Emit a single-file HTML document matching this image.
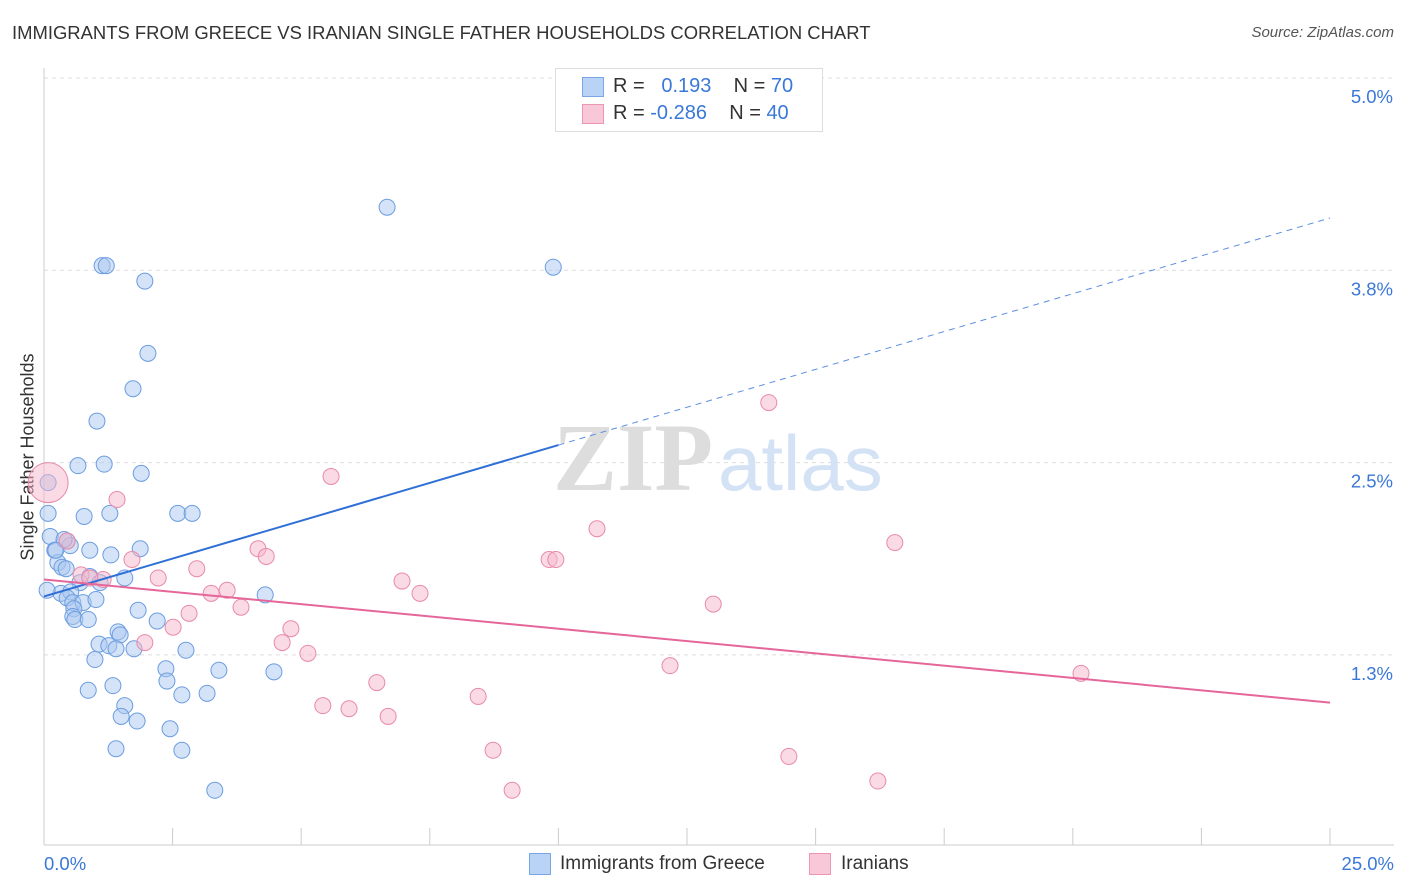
<!DOCTYPE html>
<html><head><meta charset="utf-8"><style>
body{margin:0;background:#fff;font-family:"Liberation Sans",sans-serif;}
#wrap{position:relative;width:1406px;height:892px;overflow:hidden;}
.t{position:absolute;white-space:nowrap;}
</style></head><body>
<div id="wrap">
<div class="t" style="left:12px;top:22px;font-size:18.45px;color:#333;">IMMIGRANTS FROM GREECE VS IRANIAN SINGLE FATHER HOUSEHOLDS CORRELATION CHART</div>
<div class="t" style="right:12px;top:24px;font-size:15px;color:#555;font-style:italic;">Source: ZipAtlas.com</div>
<div class="t" style="left:28px;top:457px;font-size:18px;color:#333;transform:translate(-50%,-50%) rotate(-90deg);">Single Father Households</div>
<svg id="svg" width="1406" height="892" style="position:absolute;left:0;top:0"></svg>
<div style="position:absolute;left:555px;top:68px;width:266px;height:62px;border:1px solid #ddd;background:#fff;">
<div style="position:absolute;left:26px;top:8px;width:20px;height:18px;background:#b8d3f5;border:1px solid #7aa7e3;"></div>
<div class="t" style="left:57px;top:6px;font-size:20px;color:#333;">R = &nbsp;<span style="color:#3a78d8">&nbsp;0.193</span>&nbsp;&nbsp;&nbsp; N = <span style="color:#3a78d8">70</span></div>
<div style="position:absolute;left:26px;top:35px;width:20px;height:18px;background:#f8c8d8;border:1px solid #eb97b3;"></div>
<div class="t" style="left:57px;top:33px;font-size:20px;color:#333;">R = <span style="color:#3a78d8">-0.286</span>&nbsp;&nbsp;&nbsp; N = <span style="color:#3a78d8">40</span></div>
</div>
<div>
<div style="position:absolute;left:529px;top:853px;width:20px;height:20px;background:#b8d3f5;border:1px solid #7aa7e3;"></div>
<div class="t" style="left:560px;top:853px;font-size:19px;color:#333;">Immigrants from Greece</div>
<div style="position:absolute;left:809px;top:853px;width:20px;height:20px;background:#f8c8d8;border:1px solid #eb97b3;"></div>
<div class="t" style="left:841px;top:853px;font-size:19px;color:#333;">Iranians</div>
</div>
</div>
<script>
const xTicksLabels=["0.0%","25.0%"];
const yTickVals=[5.0,3.75,2.5,1.25];
const yTickLabels=["5.0%","3.8%","2.5%","1.3%"];
const greeceX=[6.67,9.90,1.13,1.21,1.96,2.02,1.73,1.03,0.66,1.17,1.89,0.08,0.08,0.78,1.28,2.60,2.88,0.12,0.45,0.51,0.21,0.89,1.30,1.87,0.27,0.35,0.43,0.89,1.57,0.70,1.09,0.33,0.52,0.45,0.56,0.76,1.01,4.30,0.58,1.83,0.56,0.60,0.86,2.20,1.44,1.48,1.07,1.26,1.40,1.75,2.76,0.99,2.37,3.40,4.47,2.39,0.86,1.34,2.68,3.17,1.57,1.50,1.81,2.45,1.40,2.68,3.32,0.39,0.23,0.06];
const greeceY=[4.16,3.77,3.78,3.78,3.68,3.21,2.98,2.77,2.48,2.49,2.43,2.37,2.17,2.15,2.17,2.17,2.17,2.02,1.99,1.96,1.93,1.93,1.90,1.94,1.85,1.82,1.81,1.76,1.75,1.72,1.72,1.65,1.66,1.62,1.59,1.59,1.61,1.64,1.55,1.54,1.50,1.48,1.48,1.47,1.40,1.38,1.32,1.31,1.29,1.29,1.28,1.22,1.16,1.15,1.14,1.08,1.02,1.05,0.99,1.00,0.92,0.85,0.82,0.77,0.64,0.63,0.37,2.00,1.93,1.67];
const iranX=[0.08,1.42,5.58,14.09,10.75,16.54,4.16,4.32,9.82,9.95,0.45,1.71,0.72,2.97,2.22,1.15,6.96,7.31,3.56,3.25,3.83,2.82,13.01,2.51,4.80,4.63,1.96,5.13,12.17,20.16,6.47,8.44,5.42,5.93,6.69,8.73,14.48,16.21,9.10,0.89];
const iranY=[2.37,2.26,2.41,2.89,2.07,1.98,1.94,1.89,1.87,1.87,1.99,1.87,1.77,1.81,1.75,1.74,1.73,1.65,1.67,1.65,1.56,1.52,1.58,1.43,1.42,1.33,1.33,1.26,1.18,1.13,1.07,0.98,0.92,0.90,0.85,0.63,0.59,0.43,0.37,1.75];
const greeceTrend=[1.63,4.09];
const iranTrend=[1.74,0.94];
const solidEnd=10;

const NS="http://www.w3.org/2000/svg";
const svg=document.getElementById('svg');
const X=v=>44+v/25*1286;
const Y=v=>78+(5-v)/1.25*192.3;
function mk(tag,attrs){const e=document.createElementNS(NS,tag);for(const k in attrs)e.setAttribute(k,attrs[k]);svg.appendChild(e);return e;}
yTickVals.forEach((v,i)=>{
 const g=mk('line',{x1:44,x2:1394,y1:Y(v),y2:Y(v),stroke:'#ddd','stroke-dasharray':'4,4'});
 
 
 const t=mk('text',{x:1393,y:Y(v)+25,'text-anchor':'end','font-size':18.5,fill:'#3a78d8','font-family':'Liberation Sans'});
 t.textContent=yTickLabels[i];
 
 
});
const ax=mk('line',{x1:44,x2:44,y1:68,y2:845,stroke:'#ccc'});


const bx=mk('line',{x1:44,x2:1394,y1:845,y2:845,stroke:'#ccc'});


for(let i=0;i<=10;i++){
 const tk=mk('line',{x1:X(i*2.5),x2:X(i*2.5),y1:828,y2:845,stroke:'#ccc'});
 
 
}
[[0,'start',44],[25,'end',1394]].forEach((a,i)=>{
 const t=mk('text',{x:a[2],y:870,'text-anchor':a[1],'font-size':18.5,fill:'#3a78d8','font-family':'Liberation Sans'});
 t.textContent=xTicksLabels[i];
 
 
});
const w1=mk('text',{x:553,y:490,'font-size':96,fill:'#ddd','font-family':'Liberation Serif','font-weight':'bold'});
w1.textContent='ZIP';


const w2=mk('text',{x:718,y:490,'font-size':78,fill:'#d3e2f5','font-family':'Liberation Sans'});
w2.textContent='atlas';


function pts(xs,ys,fill,stroke,name){
 xs.forEach((x,i)=>{
  const r=(name==='iranians-point'&&i===0)?20:8;
  const c=mk('circle',{cx:X(x),cy:Y(ys[i]),r:r,fill:fill,'fill-opacity':0.5,stroke:stroke,'stroke-width':1});
  
  
 });
}
pts(greeceX,greeceY,'#a9c8f0','#6b9de0','greece-point');
pts(iranX,iranY,'#f5b7cb','#e88aa8','iranians-point');
const gy=x=>greeceTrend[0]+(greeceTrend[1]-greeceTrend[0])*x/25;
const l1=mk('line',{x1:X(0),y1:Y(gy(0)),x2:X(solidEnd),y2:Y(gy(solidEnd)),stroke:'#2f6fd6','stroke-width':2});


const l2=mk('line',{x1:X(solidEnd),y1:Y(gy(solidEnd)),x2:X(25),y2:Y(gy(25)),stroke:'#5b8ee0','stroke-width':1,'stroke-dasharray':'6,5'});


const l3=mk('line',{x1:X(0),y1:Y(iranTrend[0]),x2:X(25),y2:Y(iranTrend[1]),stroke:'#e5669a','stroke-width':2});


</script>
</body></html>
